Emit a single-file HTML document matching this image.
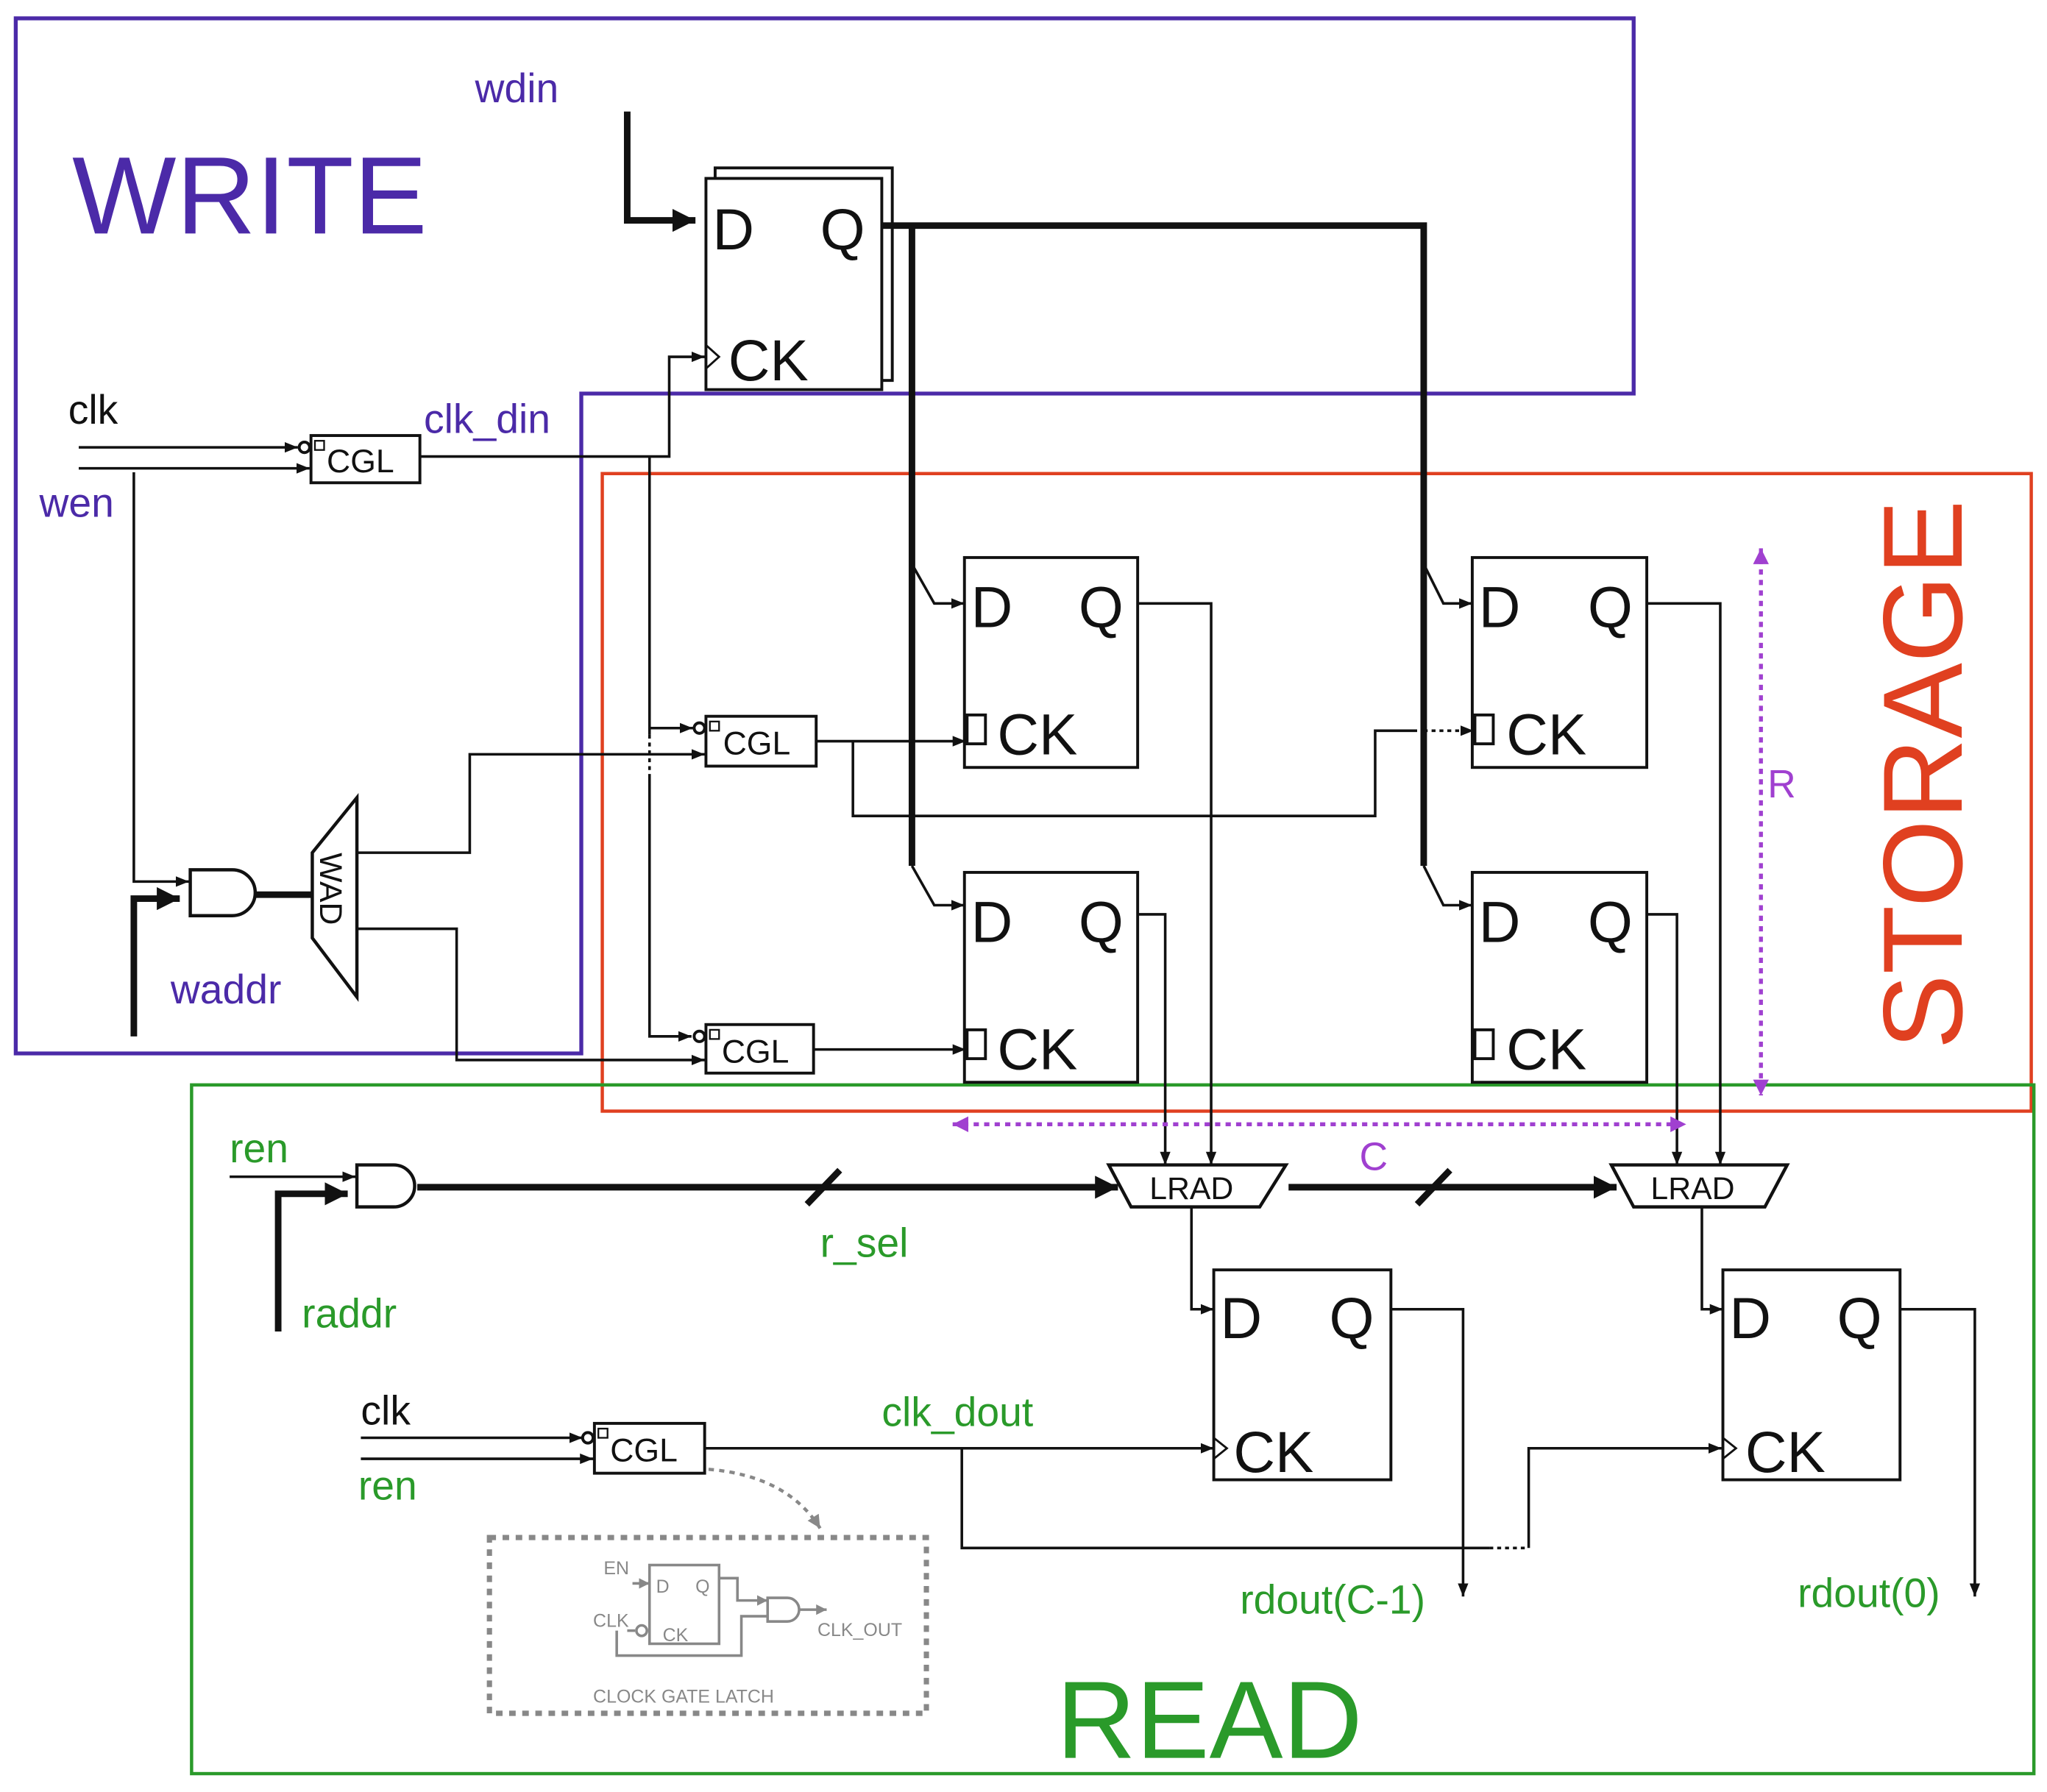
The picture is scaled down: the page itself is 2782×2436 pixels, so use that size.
<!DOCTYPE html>
<html><head><meta charset="utf-8"><style>
html,body{margin:0;padding:0;background:#fff;}
svg{display:block;}
text{font-family:"Liberation Sans",Arial,sans-serif;}
</style></head><body>
<svg width="2782" height="2436" viewBox="0 0 1560 1366" preserveAspectRatio="none" xmlns="http://www.w3.org/2000/svg">
<defs>
<marker id="a" viewBox="0 0 10 10" refX="10" refY="5" markerWidth="5" markerHeight="5" orient="auto"><path d="M0,1 L10,5 L0,9z" fill="#111"/></marker>
<marker id="ab" viewBox="0 0 10 10" refX="10" refY="5" markerWidth="3.5" markerHeight="3.5" orient="auto"><path d="M0,0 L10,5 L0,10z" fill="#111"/></marker>
<marker id="ap" viewBox="0 0 10 10" refX="10" refY="5" markerWidth="4" markerHeight="4" orient="auto-start-reverse"><path d="M0,0 L10,5 L0,10z" fill="#a040d0"/></marker>
<marker id="ag" viewBox="0 0 10 10" refX="10" refY="5" markerWidth="4" markerHeight="4" orient="auto"><path d="M0,0 L10,5 L0,10z" fill="#888"/></marker>
</defs>
<rect width="1560" height="1366" fill="#fff"/>
<path d="M12,14 H1245 V300 H443 V803 H12 Z" fill="none" stroke="#4b2aa8" stroke-width="3"/>
<rect x="459" y="361" width="1089" height="486" fill="none" stroke="#e04020" stroke-width="2.5"/>
<rect x="146" y="827" width="1404" height="525" fill="none" stroke="#2a9a2a" stroke-width="2.5"/>
<text x="55" y="178" font-size="84" fill="#4b2aa8">WRITE</text>
<text x="805" y="1340" font-size="84" fill="#2a9a2a">READ</text>
<text transform="translate(1495,800) rotate(-90)" font-size="86" fill="#e04020">STORAGE</text>

<g fill="none" stroke="#111" stroke-width="2.2">
<rect x="545" y="128" width="135" height="162" fill="#fff"/>
<rect x="538" y="136" width="134" height="161" fill="#fff"/>
<rect x="735" y="425" width="132" height="160"/>
<rect x="735" y="665" width="132" height="160"/>
<rect x="1122" y="425" width="133" height="160"/>
<rect x="1122" y="665" width="133" height="160"/>
<rect x="925" y="968" width="135" height="160"/>
<rect x="1313" y="968" width="135" height="160"/>
<rect x="237" y="332" width="83" height="36"/>
<rect x="538" y="546" width="84" height="38"/>
<rect x="538" y="781" width="82" height="37"/>
<rect x="453" y="1085" width="84" height="38"/>
<rect x="240" y="336" width="7" height="7" stroke-width="1.3"/>
<rect x="541" y="550" width="7" height="7" stroke-width="1.3"/>
<rect x="541" y="785" width="7" height="7" stroke-width="1.3"/>
<rect x="456" y="1089" width="7" height="7" stroke-width="1.3"/>
<circle cx="232" cy="341" r="4"/><circle cx="533" cy="555" r="4"/><circle cx="533" cy="790" r="4"/><circle cx="448" cy="1096" r="4"/>
<rect x="737" y="545" width="14" height="22"/><rect x="737" y="785" width="14" height="22"/>
<rect x="1124" y="545" width="14" height="22"/><rect x="1124" y="785" width="14" height="22"/>
<path d="M538,263 L548,272 L538,281" stroke-width="1.6"/>
<path d="M925,1096 L935,1104 L925,1112" stroke-width="1.6"/>
<path d="M1313,1096 L1323,1104 L1313,1112" stroke-width="1.6"/>
<path d="M145,663 H177 A17,17 0 0 1 177,698 H145 Z" stroke-width="2.5"/>
<path d="M272,888 H300 A16,16 0 0 1 300,920 H272 Z" stroke-width="2.5"/>
<path d="M238,650 L272,608 L272,760 L238,715 Z" stroke-width="2.5"/>
<path d="M845,888 H980 L960,920 H862 Z" stroke-width="2.5"/>
<path d="M1228,888 H1362 L1345,920 H1245 Z" stroke-width="2.5"/>
</g>

<g fill="none" stroke="#111" stroke-width="5">
<path d="M478,85 V168 H530" marker-end="url(#ab)"/>
<path d="M672,172 H1085 V660"/>
<path d="M695,172 V660"/>
<path d="M102,790 V685 H137" marker-end="url(#ab)"/>
<path d="M195,682 H238"/>
<path d="M212,1015 V910 H265" marker-end="url(#ab)"/>
<path d="M318,905 H852" marker-end="url(#ab)"/>
<path d="M982,905 H1232" marker-end="url(#ab)"/>
<path d="M615,918 L640,892 M1080,918 L1105,892"/>
</g>

<g fill="none" stroke="#111" stroke-width="2">
<path d="M60,341 H227" marker-end="url(#a)"/>
<path d="M60,357 H236" marker-end="url(#a)"/>
<path d="M320,348 H510 V272 H537" marker-end="url(#a)"/>
<path d="M495,348 V560"/><path d="M495,590 V790 H527" marker-end="url(#a)"/>
<path d="M495,560 V590" stroke-dasharray="3,3"/>
<path d="M495,555 H528" marker-end="url(#a)"/>
<path d="M102,360 V672 H144" marker-end="url(#a)"/>
<path d="M272,650 H358 V575 H537" marker-end="url(#a)"/>
<path d="M272,708 H348 V808 H537" marker-end="url(#a)"/>
<path d="M622,565 H736" marker-end="url(#a)"/>
<path d="M620,800 H736" marker-end="url(#a)"/>
<path d="M650,565 V622 H1048 V557 H1080"/>
<path d="M1085,557 H1123" stroke-dasharray="3,3" marker-end="url(#a)"/>
<path d="M695,430 L712,460 H735" marker-end="url(#a)"/>
<path d="M695,660 L712,690 H735" marker-end="url(#a)"/>
<path d="M1085,430 L1100,460 H1122" marker-end="url(#a)"/>
<path d="M1085,660 L1100,690 H1122" marker-end="url(#a)"/>
<path d="M867,460 H923 V888" marker-end="url(#a)"/>
<path d="M867,697 H888 V888" marker-end="url(#a)"/>
<path d="M1255,460 H1311 V888" marker-end="url(#a)"/>
<path d="M1255,697 H1278 V888" marker-end="url(#a)"/>
<path d="M175,897 H271" marker-end="url(#a)"/>
<path d="M908,920 V998 H925" marker-end="url(#a)"/>
<path d="M1297,920 V998 H1313" marker-end="url(#a)"/>
<path d="M1060,998 H1115 V1217" marker-end="url(#a)"/>
<path d="M1448,998 H1505 V1217" marker-end="url(#a)"/>
<path d="M275,1096 H444" marker-end="url(#a)"/>
<path d="M275,1112 H452" marker-end="url(#a)"/>
<path d="M537,1104 H925" marker-end="url(#a)"/>
<path d="M733,1104 V1180 H1135"/>
<path d="M1135,1180 H1165" stroke-dasharray="3,3"/>
<path d="M1165,1180 V1104 H1312" marker-end="url(#a)"/>
</g>

<g fill="none" stroke="#a040d0" stroke-width="3" stroke-dasharray="4,4">
<path d="M1342,418 V835" marker-start="url(#ap)" marker-end="url(#ap)"/>
<path d="M726,857 H1285" marker-start="url(#ap)" marker-end="url(#ap)"/>
</g>
<text x="1347" y="608" font-size="30" fill="#a040d0">R</text>
<text x="1036" y="892" font-size="30" fill="#a040d0">C</text>

<g font-size="44" fill="#111">
<text x="543" y="190">D</text><text x="625" y="190">Q</text><text x="555" y="290">CK</text>
<text x="740" y="478">D</text><text x="822" y="478">Q</text><text x="760" y="575">CK</text>
<text x="740" y="718">D</text><text x="822" y="718">Q</text><text x="760" y="815">CK</text>
<text x="1127" y="478">D</text><text x="1210" y="478">Q</text><text x="1148" y="575">CK</text>
<text x="1127" y="718">D</text><text x="1210" y="718">Q</text><text x="1148" y="815">CK</text>
<text x="930" y="1020">D</text><text x="1013" y="1020">Q</text><text x="940" y="1122">CK</text>
<text x="1318" y="1020">D</text><text x="1400" y="1020">Q</text><text x="1330" y="1122">CK</text>
</g>
<g font-size="25" fill="#111">
<text x="249" y="360">CGL</text><text x="551" y="575">CGL</text><text x="550" y="810">CGL</text><text x="465" y="1114">CGL</text>
<text x="876" y="914" font-size="24">LRAD</text><text x="1258" y="914" font-size="24">LRAD</text>
<text transform="translate(244,650) rotate(90)" font-size="24">WAD</text>
</g>

<g font-size="31">
<text x="362" y="78" fill="#4b2aa8">wdin</text>
<text x="52" y="323" fill="#111">clk</text>
<text x="30" y="394" fill="#4b2aa8">wen</text>
<text x="323" y="330" fill="#4b2aa8">clk_din</text>
<text x="130" y="765" fill="#4b2aa8">waddr</text>
<text x="175" y="886" fill="#2a9a2a">ren</text>
<text x="230" y="1012" fill="#2a9a2a">raddr</text>
<text x="625" y="958" fill="#2a9a2a">r_sel</text>
<text x="275" y="1086" fill="#111">clk</text>
<text x="273" y="1143" fill="#2a9a2a">ren</text>
<text x="672" y="1087" fill="#2a9a2a">clk_dout</text>
<text x="945" y="1230" fill="#2a9a2a">rdout(C-1)</text>
<text x="1370" y="1225" fill="#2a9a2a">rdout(0)</text>
</g>

<path d="M540,1120 Q600,1125 625,1165" fill="none" stroke="#888" stroke-width="2.5" stroke-dasharray="4,4" marker-end="url(#ag)"/>
<rect x="373" y="1172" width="333" height="134" fill="none" stroke="#888" stroke-width="4" stroke-dasharray="5,5"/>
<g fill="none" stroke="#888" stroke-width="2">
<rect x="495" y="1193" width="53" height="60"/>
<path d="M482,1207 H495" marker-end="url(#ag)"/>
<path d="M478,1243 H484"/><circle cx="489" cy="1243" r="4"/>
<path d="M548,1203 H562 V1220 H585" marker-end="url(#ag)"/>
<path d="M585,1218 H600 A9,9 0 0 1 600,1236 H585 Z"/>
<path d="M609,1227 H630" marker-end="url(#ag)"/>
<path d="M470,1243 V1262 H565 V1232 H585"/>
</g>
<g font-size="14" fill="#888">
<text x="460" y="1200">EN</text><text x="500" y="1214">D</text><text x="530" y="1214">Q</text>
<text x="452" y="1240">CLK</text><text x="505" y="1251">CK</text>
<text x="623" y="1247">CLK_OUT</text><text x="452" y="1298">CLOCK GATE  LATCH</text>
</g>
</svg>
</body></html>
